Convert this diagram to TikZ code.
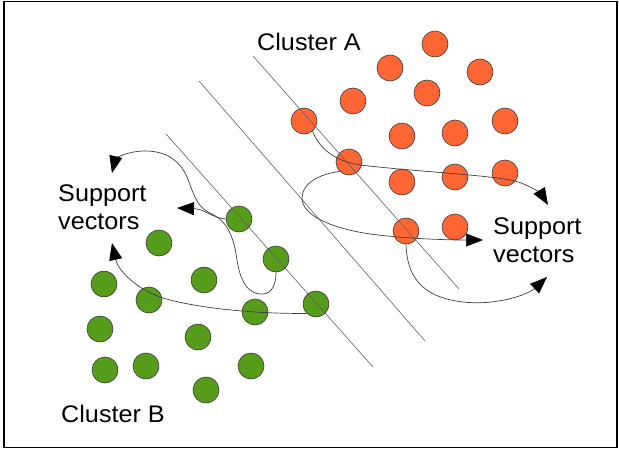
\documentclass[tikz,border=0pt]{standalone}
\usepackage{fontspec}
\setmainfont{Liberation Sans}[FakeStretch=1.05]
\usetikzlibrary{arrows.meta}
\definecolor{redpt}{HTML}{FF6633}
\definecolor{greenpt}{HTML}{579D1C}
\definecolor{outl}{HTML}{3A3A3A}
\definecolor{curvec}{HTML}{404040}
\definecolor{planec}{HTML}{606060}
\tikzset{
  redpoint/.style={circle, draw=outl, line width=0.6pt, fill=redpt, minimum size=26pt, inner sep=0pt},
  greenpoint/.style={circle, draw=outl, line width=0.6pt, fill=greenpt, minimum size=26pt, inner sep=0pt},
  plane/.style={draw=planec, line width=0.6pt},
  svcurve/.style={draw=curvec, line width=0.7pt, -{Triangle[length=17pt,width=13pt,fill=black,color=black]}},
  txtlabel/.style={inner sep=0pt, font=\fontsize{24}{28}\selectfont, align=left, anchor=base west}
}
\begin{document}
\begin{tikzpicture}[x=1pt,y=-1pt]
\useasboundingbox (0,0) rectangle (619,450);
\draw[line width=1.4pt, black] (4,1.5) rectangle (617,447.5);

% separating lines
\coordinate (p1s) at (253,56);  \coordinate (p1e) at (459,289);
\coordinate (p2s) at (199,81);  \coordinate (p2e) at (425,341);
\coordinate (p3s) at (166,134); \coordinate (p3e) at (373,367);

% Cluster A (red)
\node[redpoint] (a1) at (435,44) {};
\node[redpoint] (a2) at (390,68) {};
\node[redpoint] (a3) at (480,72) {};
\node[redpoint] (a4) at (353,101) {};
\node[redpoint] (a5) at (427,93) {};
\node[redpoint] (a6) at (304,121) {};
\node[redpoint] (a7) at (402,136) {};
\node[redpoint] (a8) at (455,133) {};
\node[redpoint] (a9) at (505,121) {};
\node[redpoint] (a10) at (349,162) {};
\node[redpoint] (a11) at (402,182) {};
\node[redpoint] (a12) at (455,177) {};
\node[redpoint] (a13) at (505,173) {};
\node[redpoint] (a14) at (406,231) {};
\node[redpoint] (a15) at (455,227) {};

% Cluster B (green)
\node[greenpoint] (b1) at (239,219) {};
\node[greenpoint] (b2) at (159,243) {};
\node[greenpoint] (b3) at (276,259) {};
\node[greenpoint] (b4) at (204,280) {};
\node[greenpoint] (b5) at (104,284) {};
\node[greenpoint] (b6) at (149,300) {};
\node[greenpoint] (b7) at (316,304) {};
\node[greenpoint] (b8) at (255,312) {};
\node[greenpoint] (b9) at (100,329) {};
\node[greenpoint] (b10) at (198,337) {};
\node[greenpoint] (b11) at (105,370) {};
\node[greenpoint] (b12) at (146,366) {};
\node[greenpoint] (b13) at (251,366) {};
\node[greenpoint] (b14) at (206,390) {};

% planes drawn over points
\draw[plane] (p1s) -- (p1e);
\draw[plane] (p2s) -- (p2e);
\draw[plane] (p3s) -- (p3e);

% arrow tips
\coordinate (c1) at (177,208);
\coordinate (c2) at (112,173);
\coordinate (c3) at (112,243);
\coordinate (c4) at (548,205);
\coordinate (c5) at (483,240);
\coordinate (c6) at (547,277);

% support vector curves (left)
\draw[svcurve] (b1.west) .. controls (212,218) and (205,209) .. (c1);
\draw[svcurve] (b3.south) .. controls (276,290) and (268,295) .. (260,294)
   .. controls (245,292) and (240,278) .. (237,260)
   .. controls (234,238) and (228,222) .. (212,214)
   .. controls (198,208) and (195,198) .. (189,182)
   .. controls (182,162) and (168,151) .. (145,151)
   .. controls (125,151) and (115,160) .. (c2);
\draw[svcurve] (b7.-135) .. controls (250,314) and (190,307) .. (160,297)
   .. controls (135,288) and (118,270) .. (c3);

% support vector curves (right)
\draw[svcurve] (a6.-50) .. controls (318,145) and (330,160) .. (360,165)
   .. controls (420,172) and (490,175) .. (515,181)
   .. controls (530,185) and (542,195) .. (c4);
\draw[svcurve] (a10.-135) .. controls (320,174) and (302,183) .. (302,198)
   .. controls (302,215) and (330,228) .. (370,234)
   .. controls (400,238) and (440,240) .. (c5);
\draw[svcurve] (a14.south) .. controls (407,275) and (420,297) .. (463,302)
   .. controls (500,306) and (530,293) .. (c6);

% labels
\node[txtlabel] (la) at (257,50.7) {Cluster A};
\node[txtlabel] (lb) at (61,422) {Cluster B};
\node[txtlabel] (sl) at (58,229.5) {Support\\vectors};
\node[txtlabel] (sr) at (493,262) {Support\\vectors};
\end{tikzpicture}
\end{document}
